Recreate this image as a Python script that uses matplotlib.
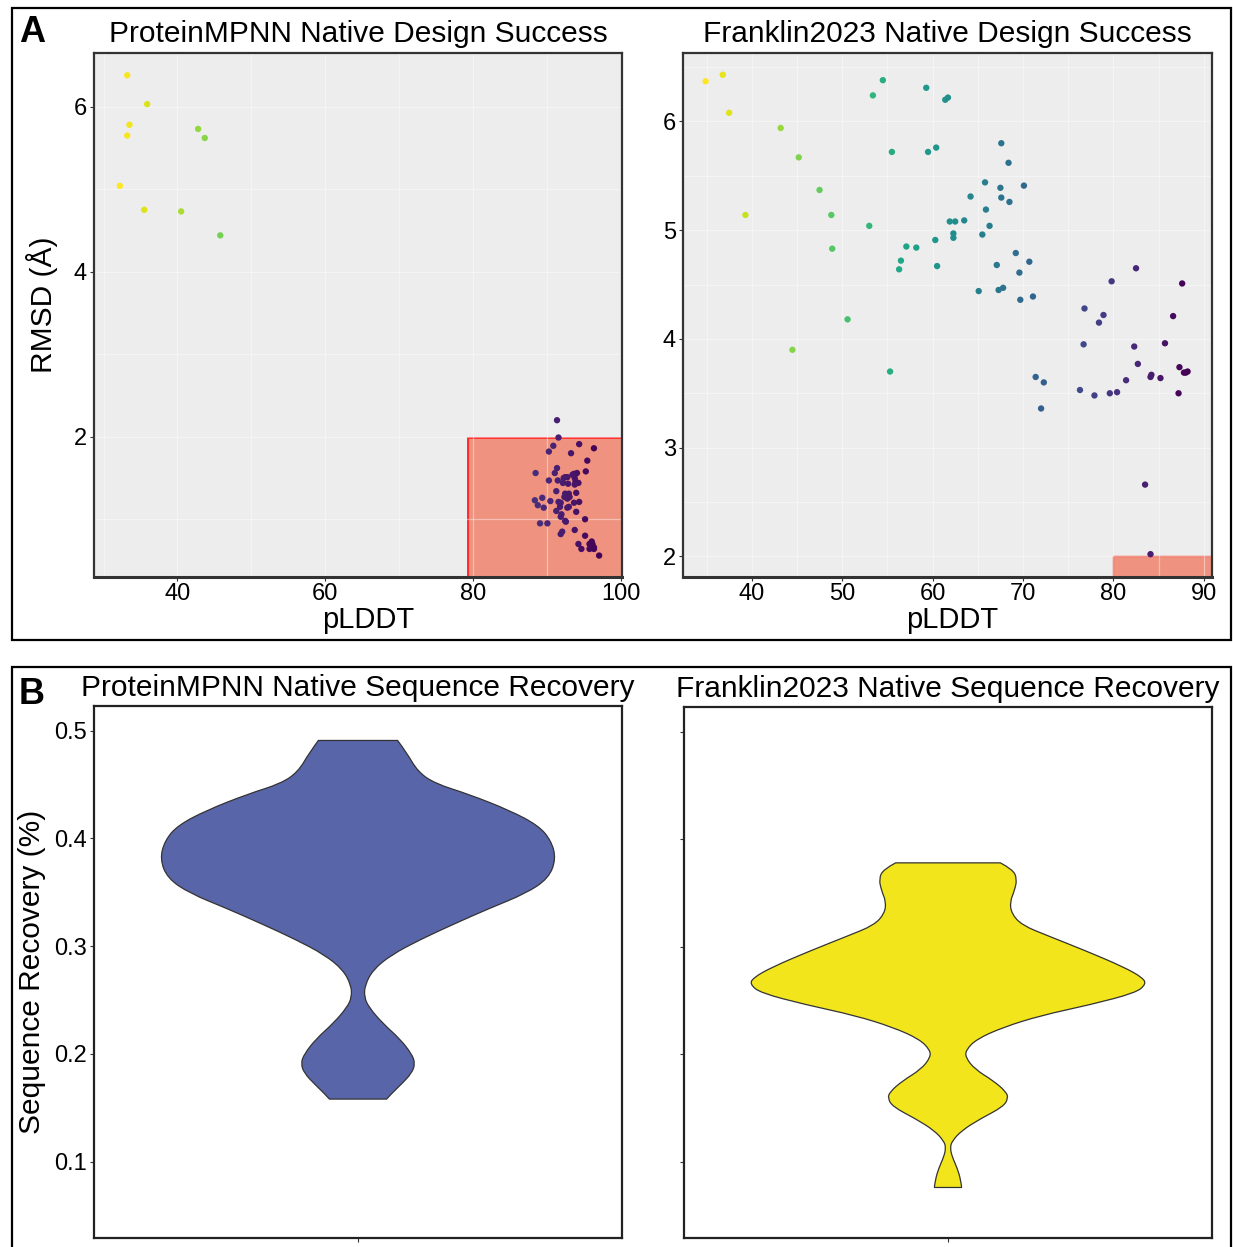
import numpy as np
import matplotlib
matplotlib.use("Agg")
import matplotlib.pyplot as plt
from matplotlib.patches import Rectangle, PathPatch
from matplotlib.path import Path

plt.rcParams['font.family'] = ['Liberation Sans', 'DejaVu Sans']

# ProteinMPNN design results (pLDDT vs RMSD)
mpnn_plddt = [33.2, 35.9, 33.5, 33.2, 42.8, 43.7, 32.2, 35.5, 40.5, 45.8,
              91.4, 91.6, 90.9, 94.4, 96.4, 90.3, 93.3, 95.5, 91.4, 95.3,
              88.5, 91.1, 93.7, 94.1, 92.5, 92.8, 92.3, 90.3, 91.5, 93.8,
              93.9, 94.3, 92.2, 92.9, 93.8, 91.3, 94.0, 92.5, 93.0, 92.4,
              93.1, 92.8, 89.4, 88.4, 88.8, 90.5, 91.6, 91.9, 93.7, 94.4,
              89.6, 91.8, 93.0, 92.8, 91.3, 94.0, 92.0, 91.9, 92.5, 92.6,
              95.2, 89.1, 90.1, 93.8, 92.1, 91.9, 95.2, 94.3, 96.1, 95.8,
              96.2, 96.0, 96.4, 94.7, 95.8, 96.4, 97.1, 93.5]
mpnn_rmsd = [6.38, 6.03, 5.78, 5.65, 5.73, 5.62, 5.04, 4.75, 4.73, 4.44,
             2.20, 1.99, 1.89, 1.91, 1.86, 1.82, 1.80, 1.71, 1.62, 1.58,
             1.56, 1.56, 1.55, 1.56, 1.51, 1.51, 1.50, 1.47, 1.47, 1.50,
             1.46, 1.44, 1.44, 1.43, 1.42, 1.34, 1.32, 1.31, 1.31, 1.27,
             1.27, 1.25, 1.26, 1.23, 1.17, 1.22, 1.21, 1.20, 1.20, 1.21,
             1.14, 1.15, 1.15, 1.14, 1.10, 1.09, 1.06, 1.03, 0.98, 0.97,
             1.00, 0.95, 0.95, 0.87, 0.85, 0.82, 0.80, 0.70, 0.73, 0.70,
             0.70, 0.68, 0.66, 0.64, 0.64, 0.64, 0.56, 1.54]

# Franklin2023 design results (pLDDT vs RMSD)
franklin_plddt = [34.9, 36.8, 37.5, 39.3, 43.2, 45.2, 47.5, 48.8, 48.9, 50.6,
                  53.0, 53.4, 54.5, 55.5, 56.3, 56.5, 57.1, 58.2, 59.3, 59.5,
                  60.4, 60.3, 60.5, 61.4, 61.7, 61.9, 62.5, 62.3, 62.3, 63.5,
                  64.2, 65.1, 65.5, 65.8, 65.9, 66.3, 67.1, 67.3, 67.8, 67.5,
                  67.6, 67.6, 68.4, 68.5, 69.2, 69.6, 69.7, 70.1, 70.7, 71.1,
                  76.8, 78.4, 78.9, 79.8, 82.5, 86.6, 87.6,
                  44.5, 55.3, 71.4, 72.3, 72.0, 76.7, 76.3, 77.9, 79.6, 80.4,
                  81.4, 82.3, 82.7, 84.1, 84.2, 85.2, 85.7, 87.3, 87.2, 87.8,
                  88.2, 88.0, 83.5, 84.1]
franklin_rmsd = [6.37, 6.43, 6.08, 5.14, 5.94, 5.67, 5.37, 5.14, 4.83, 4.18,
                 5.04, 6.24, 6.38, 5.72, 4.64, 4.72, 4.85, 4.84, 6.31, 5.72,
                 5.76, 4.91, 4.67, 6.20, 6.22, 5.08, 5.08, 4.97, 4.93, 5.09,
                 5.31, 4.44, 4.96, 5.44, 5.19, 5.04, 4.68, 4.45, 4.47, 5.39,
                 5.80, 5.30, 5.62, 5.26, 4.79, 4.61, 4.36, 5.41, 4.71, 4.39,
                 4.28, 4.15, 4.22, 4.53, 4.65, 4.21, 4.51,
                 3.90, 3.70, 3.65, 3.60, 3.36, 3.95, 3.53, 3.48, 3.50, 3.51,
                 3.62, 3.93, 3.77, 3.65, 3.67, 3.64, 3.96, 3.74, 3.50, 3.69,
                 3.70, 3.69, 2.66, 2.02]

# Violin outlines: recovery level and half-width of the density
mpnn_levels = [0.158, 0.163, 0.172, 0.182, 0.191, 0.200, 0.214, 0.228, 0.243,
               0.253, 0.264, 0.278, 0.292, 0.306, 0.320, 0.335, 0.349, 0.363,
               0.381, 0.398, 0.412, 0.426, 0.441, 0.451, 0.462, 0.480, 0.491]
mpnn_width = [0.065, 0.076, 0.099, 0.122, 0.130, 0.122, 0.095, 0.057, 0.025,
              0.014, 0.016, 0.034, 0.076, 0.141, 0.215, 0.298, 0.382, 0.433,
              0.450, 0.439, 0.410, 0.345, 0.252, 0.175, 0.136, 0.110, 0.090]

franklin_levels = [0.076, 0.083, 0.094, 0.105, 0.113, 0.119, 0.129, 0.140,
                   0.151, 0.159, 0.165, 0.175, 0.186, 0.197, 0.204, 0.214,
                   0.225, 0.236, 0.246, 0.257, 0.265, 0.271, 0.281, 0.296,
                   0.310, 0.320, 0.331, 0.342, 0.352, 0.363, 0.372, 0.378]
franklin_width = [0.031, 0.029, 0.021, 0.009, 0.005, 0.009, 0.031, 0.074,
                  0.125, 0.137, 0.132, 0.104, 0.061, 0.040, 0.041, 0.065,
                  0.125, 0.211, 0.323, 0.426, 0.450, 0.443, 0.400, 0.314,
                  0.228, 0.168, 0.144, 0.141, 0.151, 0.157, 0.147, 0.119]

W, H = 1233, 1247
fig = plt.figure(figsize=(W / 100, H / 100), dpi=100)


def px_axes(x0, y0, x1, y1):
    return fig.add_axes([x0 / W, 1 - y1 / H, (x1 - x0) / W, (y1 - y0) / H])


def style_scatter(ax):
    ax.set_facecolor('#EDEDED')
    ax.set_axisbelow(True)
    ax.grid(True, which='both', color='white', alpha=0.4, linewidth=0.9)
    for side in ['top', 'left', 'right']:
        ax.spines[side].set_color('#333333')
        ax.spines[side].set_linewidth(1.6)
    ax.spines['bottom'].set_color('#333333')
    ax.spines['bottom'].set_linewidth(2.2)
    ax.tick_params(which='major', labelsize=17, length=3, width=0.8,
                   color='#333333', pad=2)
    ax.tick_params(axis='x', which='major', pad=1)
    ax.tick_params(which='minor', length=0)


def draw_scatter(ax, x, y, title, label_x):
    x = np.array(x)
    y = np.array(y)
    norm = plt.Normalize(x.min(), x.max())
    ax.scatter(x, y, c=x, cmap='viridis_r', norm=norm, s=21,
               linewidths=0, zorder=3)
    ax.set_title(title, fontsize=21.5, pad=8)
    ax.set_xlabel('pLDDT', fontsize=21, va='center')
    ax.xaxis.set_label_coords(label_x, -0.082)


def violin_path(levels, width, center=1.0):
    # smooth outline: quadratic segments through midpoints of the profile
    right = [(center + w, v) for v, w in zip(levels, width)]
    left = [(center - w, v) for v, w in zip(levels, width)][::-1]
    verts, codes = [], []

    def smooth(pts, first):
        verts.append(pts[0])
        codes.append(Path.MOVETO if first else Path.LINETO)
        for i in range(1, len(pts) - 1):
            nxt = pts[i + 1]
            mid = ((pts[i][0] + nxt[0]) / 2, (pts[i][1] + nxt[1]) / 2)
            if i == len(pts) - 2:
                mid = nxt
            verts.extend([pts[i], mid])
            codes.extend([Path.CURVE3, Path.CURVE3])

    smooth(right, True)
    smooth(left, False)
    verts.append(right[0])
    codes.append(Path.CLOSEPOLY)
    return Path(verts, codes)


def style_violin(ax):
    ax.set_xlim(0.4, 1.6)
    ax.set_ylim(0.029, 0.523)
    ax.set_xticks([1])
    ax.set_xticklabels([])
    ax.set_yticks([0.1, 0.2, 0.3, 0.4, 0.5])
    ax.tick_params(labelsize=17, length=3, width=0.8, color='#333333', pad=2)
    for side in ax.spines:
        ax.spines[side].set_color('#222222')
        ax.spines[side].set_linewidth(1.6)


# Panel A: design success scatter plots
ax1 = px_axes(94, 53, 622, 577)
style_scatter(ax1)
ax1.add_patch(Rectangle((79.4, 0.0), 25, 1.98, facecolor='#EF9380',
                        edgecolor='#FF2020', linewidth=1.3, zorder=0.4))
draw_scatter(ax1, mpnn_plddt, mpnn_rmsd,
             'ProteinMPNN Native Design Success', 0.519)
ax1.set_xlim(28.7, 100.2)
ax1.set_ylim(0.30, 6.65)
ax1.set_xticks([40, 60, 80, 100])
ax1.set_xticks([30, 50, 70, 90], minor=True)
ax1.set_yticks([2, 4, 6])
ax1.set_yticks([1, 3, 5], minor=True)
ax1.set_ylabel('RMSD (Å)', fontsize=21.5, va='center')
ax1.yaxis.set_label_coords(-0.098, 0.519)

ax2 = px_axes(683, 53, 1212, 577)
style_scatter(ax2)
ax2.add_patch(Rectangle((79.9, 0.0), 25, 2.0, facecolor='#EF9380',
                        edgecolor='#F04A3A', linewidth=1.0, zorder=0.4))
draw_scatter(ax2, franklin_plddt, franklin_rmsd,
             'Franklin2023 Native Design Success', 0.508)
ax2.set_xlim(32.4, 90.9)
ax2.set_ylim(1.81, 6.63)
ax2.set_xticks([40, 50, 60, 70, 80, 90])
ax2.set_xticks([35, 45, 55, 65, 75, 85], minor=True)
ax2.set_yticks([2, 3, 4, 5, 6])
ax2.set_yticks([2.5, 3.5, 4.5, 5.5, 6.5], minor=True)

# Panel B: sequence recovery violins
ax3 = px_axes(94, 706, 622, 1238)
style_violin(ax3)
ax3.add_patch(PathPatch(violin_path(mpnn_levels, mpnn_width),
                        facecolor='#5965A9', edgecolor='#333333',
                        linewidth=0.9))
ax3.set_title('ProteinMPNN Native Sequence Recovery', fontsize=21.5, pad=7)
ax3.set_ylabel('Sequence Recovery (%)', fontsize=21.5, labelpad=6)

ax4 = px_axes(684, 707, 1212, 1238)
style_violin(ax4)
ax4.set_yticklabels([])
ax4.add_patch(PathPatch(violin_path(franklin_levels, franklin_width),
                        facecolor='#F3E51B', edgecolor='#333333',
                        linewidth=0.9))
ax4.set_title('Franklin2023 Native Sequence Recovery', fontsize=21.5, pad=7)

# Panel frames and letters
fig.add_artist(Rectangle((12 / W, 1 - 640 / H), 1219 / W, 632 / H,
                         transform=fig.transFigure, fill=False,
                         edgecolor='black', linewidth=1.6))
fig.add_artist(Rectangle((12 / W, 1 - 1260 / H), 1219 / W, 593 / H,
                         transform=fig.transFigure, fill=False,
                         edgecolor='black', linewidth=1.6))
fig.text(32 / W, 1 - 32 / H, 'A', fontsize=26, fontweight='bold',
         ha='center', va='center')
fig.text(32 / W, 1 - 695 / H, 'B', fontsize=26, fontweight='bold',
         ha='center', va='center')

fig.savefig('out.png', dpi=100)
